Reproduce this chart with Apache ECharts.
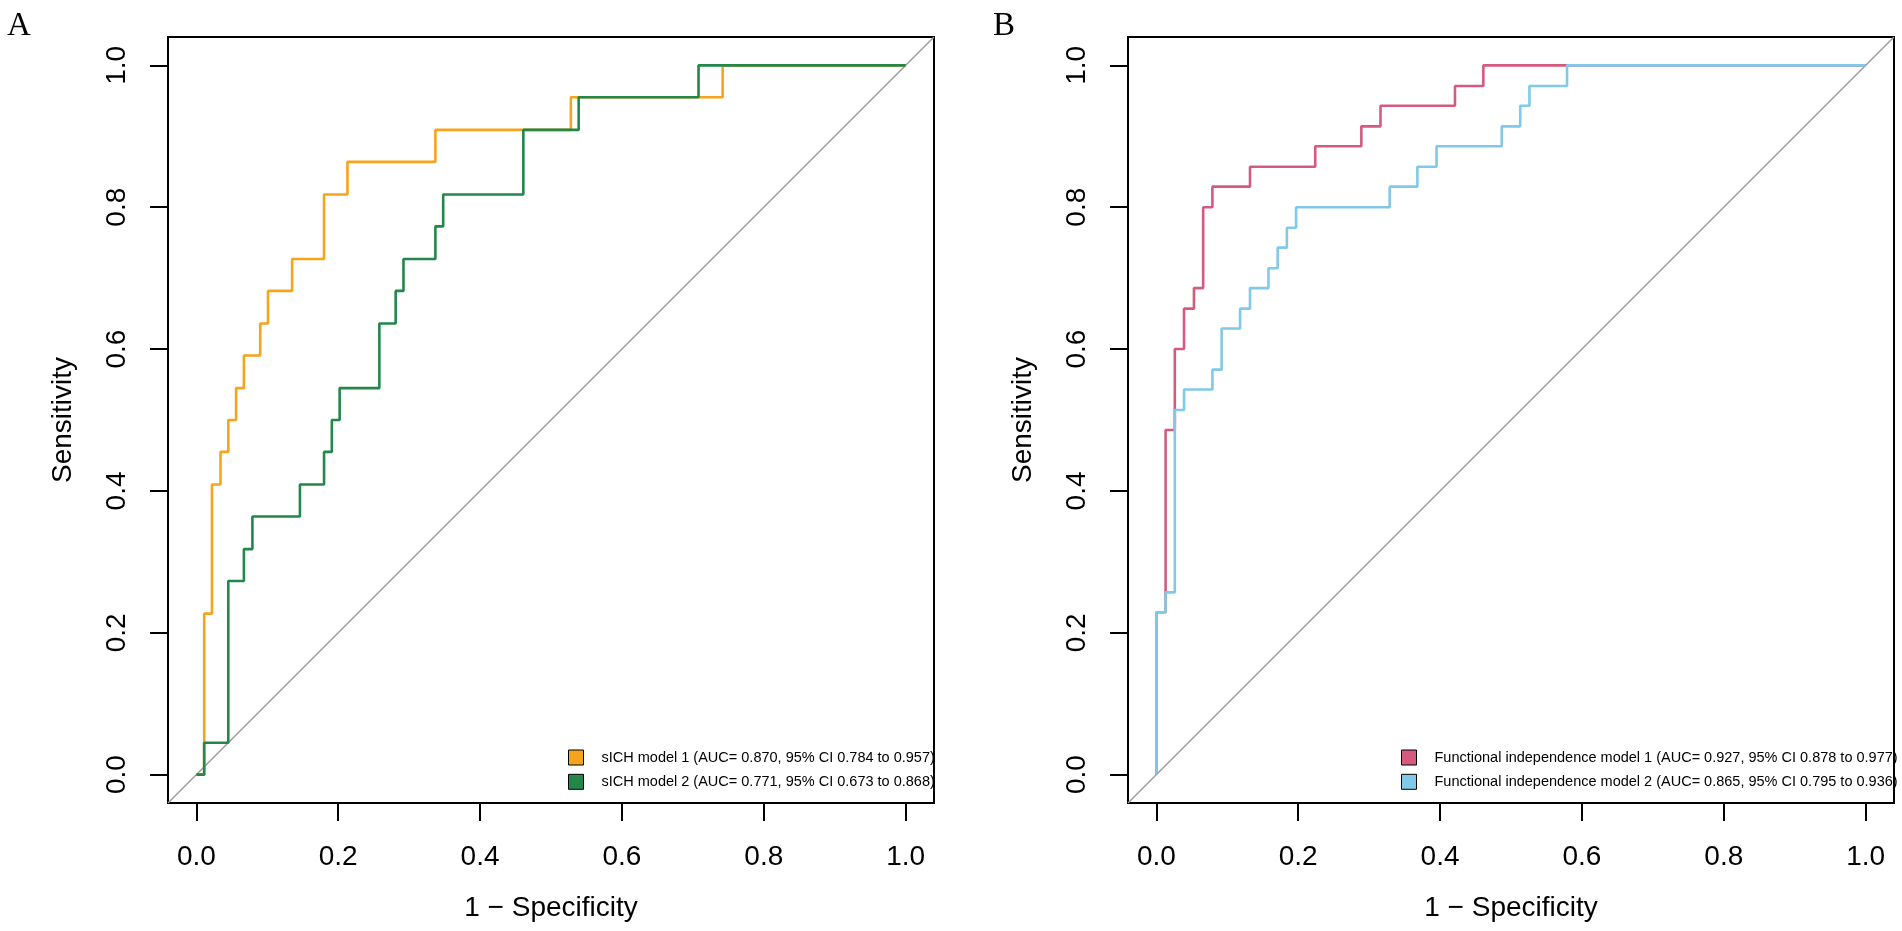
<!DOCTYPE html>
<html>
<head>
<meta charset="utf-8">
<title>ROC curves</title>
<script src="https://cdn.jsdelivr.net/npm/echarts@6.0.0/dist/echarts.min.js"></script>
<style>
    html, body { margin: 0; padding: 0; background: #fff; }
    #chart { width: 1902px; height: 931px; }
</style>
</head>
<body>
<div id="chart"></div>
<script>
// tick labels on both axes
var tickValues = [0, 0.2, 0.4, 0.6, 0.8, 1.0];
// reference diagonal, corner to corner of the plot box
var diagX = [-0.04, 1.04];
var diagY = [-0.04, 1.04];

// panel A - sICH
var nameA1 = 'sICH model 1 (AUC= 0.870, 95% CI 0.784 to 0.957)';
var nameA2 = 'sICH model 2 (AUC= 0.771, 95% CI 0.673 to 0.868)';
var fprA1 = [0, 0.011, 0.022, 0.034, 0.045, 0.056, 0.067, 0.090, 0.101, 0.135, 0.180, 0.213, 0.337, 0.528, 0.742, 1];
var sensA1 = [0, 0.227, 0.409, 0.455, 0.500, 0.545, 0.591, 0.636, 0.682, 0.727, 0.818, 0.864, 0.909, 0.955, 1, 1];
var fprA2 = [0, 0.011, 0.045, 0.067, 0.079, 0.146, 0.180, 0.191, 0.202, 0.258, 0.281, 0.292, 0.337, 0.348, 0.461, 0.539, 0.708, 1];
var sensA2 = [0, 0.045, 0.273, 0.318, 0.364, 0.409, 0.455, 0.500, 0.545, 0.636, 0.682, 0.727, 0.773, 0.818, 0.909, 0.955, 1, 1];

// panel B - functional independence
var nameB1 = 'Functional independence model 1 (AUC= 0.927, 95% CI 0.878 to 0.977)';
var nameB2 = 'Functional independence model 2 (AUC= 0.865, 95% CI 0.795 to 0.936)';
var fprB1 = [0, 0, 0.013, 0.026, 0.039, 0.053, 0.066, 0.079, 0.132, 0.224, 0.289, 0.316, 0.421, 0.461, 1];
var sensB1 = [0, 0.229, 0.486, 0.600, 0.657, 0.686, 0.800, 0.829, 0.857, 0.886, 0.914, 0.943, 0.971, 1, 1];
var fprB2 = [0, 0, 0.013, 0.026, 0.039, 0.079, 0.092, 0.118, 0.132, 0.158, 0.171, 0.184, 0.197, 0.329, 0.368, 0.395, 0.487, 0.513, 0.526, 0.579, 1];
var sensB2 = [0, 0.229, 0.257, 0.514, 0.543, 0.571, 0.629, 0.657, 0.686, 0.714, 0.743, 0.771, 0.800, 0.829, 0.857, 0.886, 0.914, 0.943, 0.971, 1, 1];

var colA1 = '#F7A31C', colA2 = '#23874A';
var colB1 = '#D65A80', colB2 = '#80C9E8';

var FONT = '"Liberation Sans", Arial, Helvetica, sans-serif';

function pairs(xs, ys) {
    var out = [];
    for (var i = 0; i < xs.length; i++) {
        out.push([xs[i], ys[i]]);
    }
    return out;
}

function xAxisFor(g) {
    return {
        type: 'value', gridIndex: g, min: -0.04, max: 1.04,
        name: '1 \u2212 Specificity', nameLocation: 'middle', nameGap: 91,
        nameTextStyle: { fontSize: 28, color: '#000', fontFamily: FONT },
        axisLine: { show: false, onZero: false },
        splitLine: { show: false },
        axisTick: { show: true, inside: false, length: 18, customValues: tickValues, lineStyle: { color: '#000', width: 2 } },
        axisLabel: { customValues: tickValues, margin: 40, fontSize: 28, color: '#000', fontFamily: FONT,
            formatter: function (v) { return v.toFixed(1); } }
    };
}

function yAxisFor(g) {
    return {
        type: 'value', gridIndex: g, min: -0.04, max: 1.04,
        name: 'Sensitivity', nameLocation: 'middle', nameGap: 91,
        nameTextStyle: { fontSize: 28, color: '#000', fontFamily: FONT },
        axisLine: { show: false, onZero: false },
        splitLine: { show: false },
        axisTick: { show: true, inside: false, length: 18, customValues: tickValues, lineStyle: { color: '#000', width: 2 } },
        axisLabel: { customValues: tickValues, margin: 37, rotate: 90, fontSize: 28, color: '#000', fontFamily: FONT,
            formatter: function (v) { return v.toFixed(1); } }
    };
}

function diagSeries(g) {
    return {
        type: 'line', xAxisIndex: g, yAxisIndex: g, data: pairs(diagX, diagY),
        symbol: 'none', silent: true, z: 1,
        lineStyle: { color: '#999999', width: 1.5 }
    };
}

function rocSeries(name, xs, ys, color, g) {
    return {
        name: name, type: 'line', xAxisIndex: g, yAxisIndex: g,
        data: pairs(xs, ys), step: 'end', symbol: 'none', z: 3,
        color: color,
        itemStyle: { color: color },
        lineStyle: { color: color, width: 2.6 }
    };
}

function legendFor(left, names) {
    return {
        orient: 'vertical', left: left, top: 749.5, padding: 0,
        icon: 'rect', itemWidth: 15, itemHeight: 15, itemGap: 8.3,
        selectedMode: false,
        itemStyle: { borderColor: '#000', borderWidth: 1 },
        textStyle: { fontSize: 14.5, color: '#000', fontFamily: FONT, padding: [0, 0, 0, 13] },
        data: names
    };
}

var myChart = echarts.init(document.getElementById('chart'));
var option = {
    animation: false,
    backgroundColor: '#fff',
    grid: [
        { left: 168, top: 37, width: 766, height: 766, show: true, borderColor: '#000', borderWidth: 2, backgroundColor: 'transparent' },
        { left: 1128, top: 37, width: 766, height: 766, show: true, borderColor: '#000', borderWidth: 2, backgroundColor: 'transparent' }
    ],
    xAxis: [xAxisFor(0), xAxisFor(1)],
    yAxis: [yAxisFor(0), yAxisFor(1)],
    legend: [
        legendFor(568, [nameA1, nameA2]),
        legendFor(1401, [nameB1, nameB2])
    ],
    graphic: [
        { type: 'text', x: 7, y: 26, style: { text: 'A', font: '33px "Liberation Serif", "Times New Roman", serif', fill: '#000', verticalAlign: 'middle' } },
        { type: 'text', x: 993, y: 26, style: { text: 'B', font: '33px "Liberation Serif", "Times New Roman", serif', fill: '#000', verticalAlign: 'middle' } }
    ],
    series: [
        diagSeries(0),
        rocSeries(nameA1, fprA1, sensA1, colA1, 0),
        rocSeries(nameA2, fprA2, sensA2, colA2, 0),
        diagSeries(1),
        rocSeries(nameB1, fprB1, sensB1, colB1, 1),
        rocSeries(nameB2, fprB2, sensB2, colB2, 1)
    ]
};
myChart.setOption(option);
</script>
</body>
</html>
